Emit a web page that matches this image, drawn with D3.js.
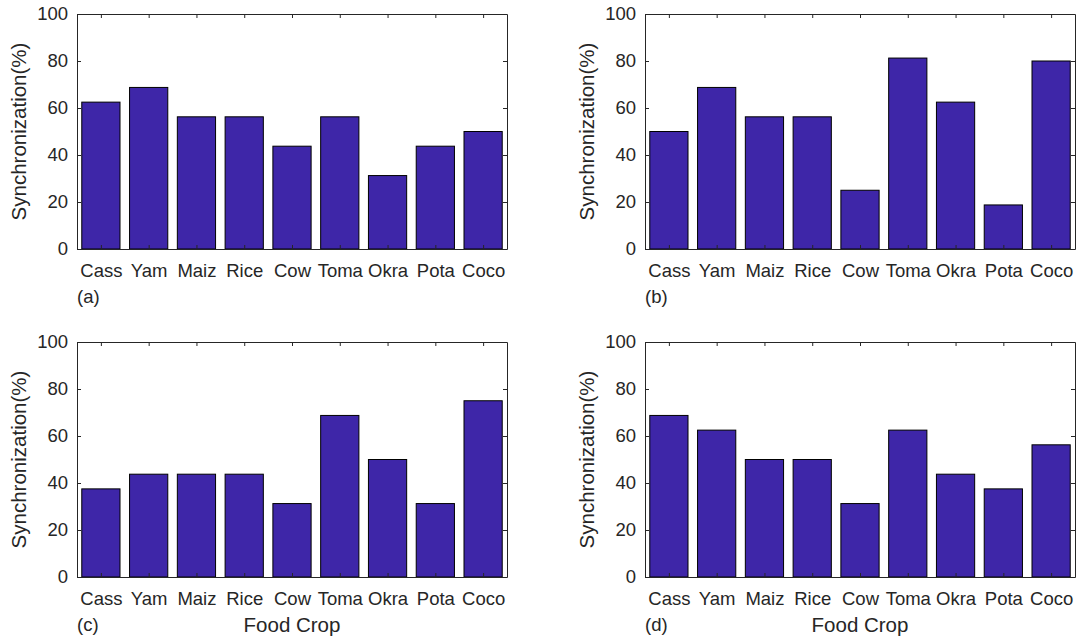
<!DOCTYPE html>
<html lang="en">
<head>
<meta charset="utf-8">
<title>Synchronization by food crop</title>
<script src="https://d3js.org/d3.v7.min.js"></script>
<style>
  body { margin: 0; background: #fff; }
  text { font-family: "Liberation Sans", Arial, sans-serif; fill: #262626; }
</style>
</head>
<body>
<script>
// crop names and synchronization values for each panel
var crops = ["Cass", "Yam", "Maiz", "Rice", "Cow", "Toma", "Okra", "Pota", "Coco"];
var syncA = [62.5, 68.75, 56.25, 56.25, 43.75, 56.25, 31.25, 43.75, 50];
var syncB = [50, 68.75, 56.25, 56.25, 25, 81.25, 62.5, 18.75, 80];
var syncC = [37.5, 43.75, 43.75, 43.75, 31.25, 68.75, 50, 31.25, 75];
var syncD = [68.75, 62.5, 50, 50, 31.25, 62.5, 43.75, 37.5, 56.25];
var yTicks = [0, 20, 40, 60, 80, 100];

var W = 1076, H = 639;
var svg = d3.select("body").append("svg").attr("width", W).attr("height", H);

var panels = [
  {data: syncA, tag: "(a)", x0: 77, y0: 14, xlabel: false},
  {data: syncB, tag: "(b)", x0: 645, y0: 14, xlabel: false},
  {data: syncC, tag: "(c)", x0: 77, y0: 342, xlabel: true},
  {data: syncD, tag: "(d)", x0: 645, y0: 342, xlabel: true}
];
var pw = 430, ph = 235;
var axisCol = "#262626";
var tickFont = "18.5px";

panels.forEach(function(p) {
  var g = svg.append("g").attr("transform", "translate(" + p.x0 + "," + p.y0 + ")");

  // numeric x scale like matlab: categories at 1..9, limits 0.5..9.5
  var x = d3.scaleLinear().domain([0.5, 9.5]).range([0, pw]);
  var y = d3.scaleLinear().domain([0, 100]).range([ph, 0]);
  var bw = x(1.4) - x(0.6);

  g.selectAll("rect.bar")
    .data(p.data)
    .enter().append("rect")
    .attr("class", "bar")
    .attr("x", function(d, i) { return x(i + 1) - bw / 2; })
    .attr("y", function(d) { return y(d); })
    .attr("width", bw)
    .attr("height", function(d) { return y(0) - y(d); })
    .attr("fill", "#3e26a8")
    .attr("stroke", "#000")
    .attr("stroke-width", 1);

  // axes on all four sides, ticks pointing inward
  var xb = g.append("g").attr("transform", "translate(0," + ph + ")")
    .call(d3.axisBottom(x).tickValues(d3.range(1, 10))
      .tickFormat(function(d) { return crops[d - 1]; })
      .tickSizeInner(-4).tickSizeOuter(0).tickPadding(15));
  var xt = g.append("g")
    .call(d3.axisTop(x).tickValues(d3.range(1, 10)).tickFormat("")
      .tickSizeInner(-4).tickSizeOuter(0));
  var yl = g.append("g")
    .call(d3.axisLeft(y).tickValues(yTicks)
      .tickSizeInner(-4).tickSizeOuter(0).tickPadding(9));
  var yr = g.append("g").attr("transform", "translate(" + pw + ",0)")
    .call(d3.axisRight(y).tickValues(yTicks).tickFormat("")
      .tickSizeInner(-4).tickSizeOuter(0));

  [xb, xt, yl, yr].forEach(function(a) {
    a.selectAll("path.domain").attr("stroke", axisCol).attr("stroke-width", 1);
    a.selectAll(".tick line").attr("stroke", axisCol);
    a.selectAll(".tick text").style("font-size", tickFont).attr("fill", axisCol);
  });

  // y label
  g.append("text")
    .attr("transform", "translate(-51," + (ph / 2) + ") rotate(-90)")
    .attr("text-anchor", "middle")
    .style("font-size", "20.5px")
    .text("Synchronization(%)");

  // panel tag
  g.append("text")
    .attr("x", 0).attr("y", ph + 54)
    .style("font-size", tickFont)
    .text(p.tag);

  if (p.xlabel) {
    g.append("text")
      .attr("x", pw / 2).attr("y", ph + 55)
      .attr("text-anchor", "middle")
      .style("font-size", "20.5px")
      .text("Food Crop");
  }
});
</script>
</body>
</html>
